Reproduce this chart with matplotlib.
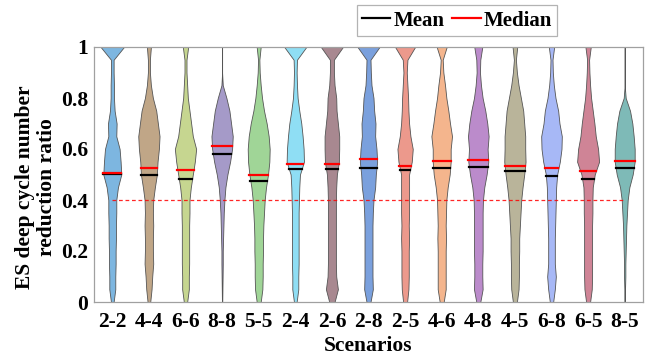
import matplotlib
matplotlib.use("Agg")
import matplotlib.pyplot as plt
import numpy as np

plt.rcParams['font.family'] = ['Liberation Serif', 'DejaVu Serif']
plt.rcParams['font.weight'] = 'bold'

# Scenario names and summary statistics
scenarios = ['2-2', '4-4', '6-6', '8-8', '5-5', '2-4', '2-6', '2-8',
             '2-5', '4-6', '4-8', '4-5', '6-8', '6-5', '8-5']
means = [0.502, 0.497, 0.484, 0.582, 0.473, 0.523, 0.523, 0.527,
         0.516, 0.525, 0.528, 0.514, 0.493, 0.482, 0.524]
medians = [0.507, 0.525, 0.519, 0.611, 0.499, 0.541, 0.542, 0.562,
           0.535, 0.552, 0.558, 0.533, 0.525, 0.514, 0.553]
threshold = 0.4

# Violin half-widths (relative density) read at y = 0, 0.05, ..., 1
levels = np.linspace(0, 1, 21)
profile = [
    [4, 9, 9, 10, 10, 11, 11, 12, 12, 17, 27, 25, 22, 12, 13, 7, 5, 5, 4, 4, 35],
    [4, 8, 10, 13, 12, 12, 13, 12, 13, 18, 24, 26, 30, 32, 27, 22, 12, 6, 3, 3, 6],
    [5, 10, 10, 11, 11, 11, 11, 12, 12, 16, 22, 28, 32, 22, 17, 12, 7, 5, 3, 3, 8],
    [0.5, 1, 1.5, 2, 2, 3, 4, 5, 7, 10, 16, 24, 30, 32, 27, 22, 13, 2, 0, 0, 0],
    [6, 11, 12, 12, 13, 13, 14, 16, 18, 22, 28, 32, 33, 30, 24, 16, 10, 6, 3, 2, 6],
    [4, 9, 9, 10, 10, 10, 10, 10, 11, 12, 14, 26, 25, 22, 18, 12, 7, 5, 4, 5, 33],
    [8, 18, 13, 12, 12, 12, 12, 12, 12, 13, 15, 21, 22, 22, 18, 14, 13, 8, 6, 6, 33],
    [6, 13, 12, 12, 12, 12, 12, 13, 15, 20, 22, 26, 24, 20, 21, 17, 15, 9, 7, 6, 33],
    [6, 10, 11, 11, 11, 12, 11, 12, 12, 12, 12, 20, 23, 16, 12, 10, 9, 7, 5, 7, 30],
    [6, 12, 12, 12, 12, 13, 12, 13, 14, 18, 24, 27, 27, 31, 25, 20, 14, 10, 5, 3, 15],
    [6, 13, 12, 12, 13, 13, 13, 13, 14, 18, 25, 30, 28, 31, 27, 21, 13, 8, 5, 6, 12],
    [6, 11, 12, 12, 13, 13, 15, 17, 19, 23, 28, 32, 31, 31, 28, 25, 18, 11, 6, 3, 7],
    [5, 10, 13, 10, 10, 10, 11, 12, 13, 14, 17, 25, 30, 31, 24, 20, 12, 7, 4, 3, 8],
    [6, 11, 12, 12, 12, 12, 12, 13, 13, 14, 20, 33, 30, 23, 19, 14, 9, 6, 4, 3, 8],
    [1, 1, 2, 2, 3, 4, 5, 7, 9, 14, 24, 30, 30, 27, 23, 16, 3, 0, 0, 0, 0],
]

colors = ['#7db6e0', '#c0a687', '#c6d690', '#a59ac8', '#a0d597',
          '#8fdef4', '#a88890', '#7aa0dd', '#ec998c', '#f4b58d',
          '#bb8bcb', '#b9b49a', '#a7b8f6', '#cf8496', '#7ebab7']

scale = 1 / 110.0  # density units -> x-axis units
fs = 15.5

fig = plt.figure(figsize=(6.57, 3.6), dpi=100)
ax = fig.add_axes([94/657, 1 - 302/360, 549/657, 255/360])

pos = np.arange(1, len(scenarios) + 1)
for i, p in enumerate(pos):
    w = np.array(profile[i]) * scale
    ax.fill_betweenx(levels, p - w, p + w, facecolor=colors[i],
                     edgecolor='#555555', linewidth=0.6, zorder=2)
    wm = np.interp(means[i], levels, w)
    wd = np.interp(medians[i], levels, w)
    ax.plot([p - wm, p + wm], [means[i], means[i]], color='black', lw=1.6, zorder=3)
    ax.plot([p - wd, p + wd], [medians[i], medians[i]], color='red', lw=1.6, zorder=3)

ax.plot([pos[0], pos[-1]], [threshold, threshold], color='red', lw=0.9,
        linestyle=(0, (3, 2.2)), alpha=0.85, zorder=4)

ax.set_xlim(0.5, len(scenarios) + 0.5)
ax.set_ylim(0, 1)
ax.set_xticks(pos)
ax.set_xticklabels(scenarios)
ax.set_yticks([0, 0.2, 0.4, 0.6, 0.8, 1])
ax.set_yticklabels(['0', '0.2', '0.4', '0.6', '0.8', '1'])
ax.tick_params(length=0, labelsize=fs)
ax.tick_params(axis='x', pad=7)
ax.tick_params(axis='y', pad=4)
for s in ax.spines.values():
    s.set_color('#a0a0a0')
    s.set_linewidth(0.9)

ax.set_xlabel('Scenarios', fontsize=fs, fontweight='bold', labelpad=3)
ax.set_ylabel('ES deep cycle number\nreduction ratio', fontsize=fs,
              fontweight='bold', linespacing=1.1, multialignment='center')
ax.yaxis.set_label_coords(-0.068, 0.45)

h1, = ax.plot([], [], color='black', lw=1.6)
h2, = ax.plot([], [], color='red', lw=1.6)
leg = fig.legend([h1, h2], ['Mean', 'Median'], loc='center',
                 bbox_to_anchor=(457/657, 1 - 20.5/360), ncol=2,
                 fontsize=15, frameon=True, fancybox=False,
                 handlelength=1.35, handletextpad=0.15, columnspacing=0.4,
                 borderpad=0.25, borderaxespad=0)
leg.get_frame().set_edgecolor('#a0a0a0')
leg.get_frame().set_linewidth(0.9)

fig.savefig('out.png', dpi=100)
